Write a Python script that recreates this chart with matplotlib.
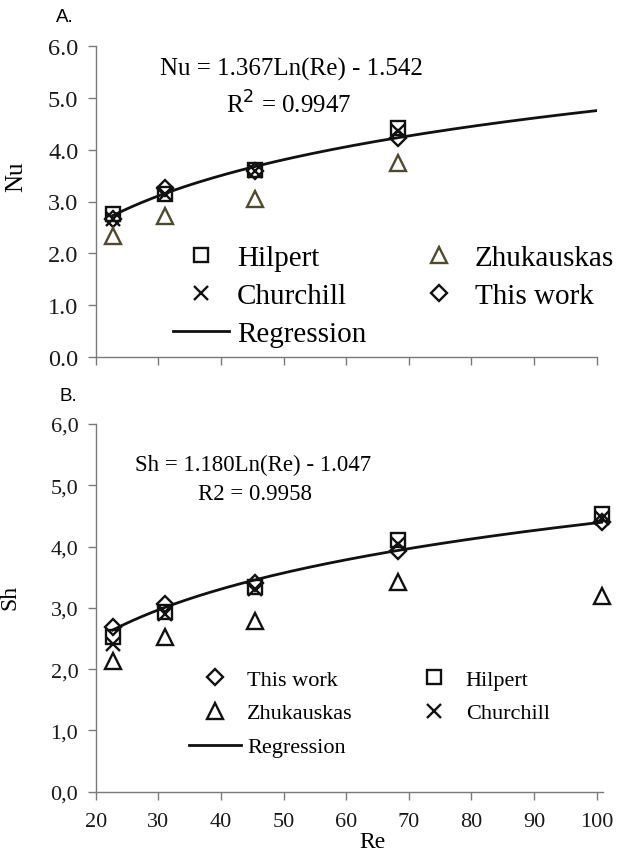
import numpy as np
import matplotlib
matplotlib.use("Agg")
import matplotlib.pyplot as plt
from matplotlib.ticker import FuncFormatter

plt.rcParams['font.family'] = ['Liberation Serif', 'DejaVu Serif']

# Re values of the experiments
re_a = [22.7, 31.1, 45.4, 68.3]
re_b = [22.7, 31.1, 45.4, 68.3, 100.9]

# A. Nusselt numbers
nu_hilpert = [2.76, 3.14, 3.61, 4.42]
nu_churchill = [2.66, 3.14, 3.59, 4.36]
nu_this = [2.66, 3.27, 3.59, 4.23]
nu_zhuk = [2.33, 2.72, 3.04, 3.75]
nu_coef = (1.367, -1.542)   # printed regression Nu = a Ln(Re) + b

# B. Sherwood numbers
sh_this = [2.68, 3.06, 3.40, 3.93, 4.40]
sh_hilpert = [2.52, 2.93, 3.34, 4.10, 4.53]
sh_churchill = [2.41, 2.90, 3.31, 4.04, 4.46]
sh_zhuk = [2.14, 2.52, 2.79, 3.42, 3.20]
sh_coef = (1.180, -1.047)

W, H = 625, 854
fig = plt.figure(figsize=(W / 100, H / 100), dpi=100)

def px(x, y):
    return x / W, 1 - y / H

gray = '#7a7a7a'
olive = '#4d4a2e'
ink = '#111111'

def style(ax, size):
    for s in ['top', 'right']:
        ax.spines[s].set_visible(False)
    for s in ['left', 'bottom']:
        ax.spines[s].set_color(gray)
        ax.spines[s].set_linewidth(1.0)
    ax.tick_params(direction='out', length=5.5, width=1, color=gray,
                   labelsize=size, labelcolor='#1a1a1a')
    ax.tick_params(axis='y', pad=7)
    ax.tick_params(axis='x', pad=9)
    ax.set_yticks(np.arange(0, 7, 1))
    ax.set_xticks(np.arange(20, 101, 10))

ms = dict(markersize=10, markerfacecolor='none', markeredgewidth=1.7,
          linestyle='none', clip_on=False)

# ---------------- panel A
x0, x1, y0, y1 = 95.7, 596.6, 47, 358
axA = fig.add_axes([x0 / W, 1 - y1 / H, (x1 - x0) / W, (y1 - y0) / H])
style(axA, 17.5)
axA.set_xlim(20, 100)
axA.set_ylim(0, 6)
axA.yaxis.set_major_formatter(FuncFormatter(lambda v, p: '%.1f' % v))
axA.tick_params(axis='x', labelbottom=False)

xr = np.linspace(re_a[0], 100, 200)
hA_s, = axA.plot(re_a, nu_hilpert, marker='s', color=ink, label='Hilpert', **ms)
hA_x, = axA.plot(re_a, nu_churchill, marker='x', color=ink, label='Churchill', **ms)
hA_d, = axA.plot(re_a, nu_this, marker='D', color=ink, label='This work',
                 **dict(ms, markersize=8.5))
hA_t, = axA.plot(re_a, nu_zhuk, marker='^', color=olive, label='Zhukauskas',
                 **dict(ms, markersize=11))
hA_r, = axA.plot(xr, nu_coef[0] * np.log(xr) + nu_coef[1], color=ink, lw=2.0,
                 label='Regression')
axA.set_ylabel('Nu', fontsize=18)
axA.yaxis.set_label_coords((27 - x0) / (x1 - x0), (y1 - 177) / (y1 - y0))
axA.legend([hA_s, hA_x, hA_r, hA_t, hA_d],
           ['Hilpert', 'Churchill', 'Regression', 'Zhukauskas', 'This work'],
           ncol=2, frameon=False, fontsize=21, loc='upper left',
           bbox_to_anchor=px(173, 246), bbox_transform=fig.transFigure,
           borderpad=0, borderaxespad=0,
           handlelength=1.92, handletextpad=0.27, columnspacing=1.54,
           labelspacing=0.39)
fig.text(*px(291, 69), 'Nu = 1.367Ln(Re) - 1.542', fontsize=18, ha='center', va='center')
fig.text(*px(289, 105), 'R$^{2}$ = 0.9947', fontsize=18, ha='center', va='center')
fig.text(*px(65, 18), 'A.', fontsize=13.5, family='Liberation Sans', ha='center', va='center')

# ---------------- panel B
x0, x1, y0, y1 = 95.7, 602.8, 425, 792.7
axB = fig.add_axes([x0 / W, 1 - y1 / H, (x1 - x0) / W, (y1 - y0) / H])
style(axB, 16)
axB.set_xlim(20, 101)
axB.set_ylim(0, 6)
axB.yaxis.set_major_formatter(FuncFormatter(lambda v, p: ('%.1f' % v).replace('.', ',')))

xr = np.linspace(re_b[0], 101, 200)
hB_d, = axB.plot(re_b, sh_this, marker='D', color=ink, label='This work',
                 **dict(ms, markersize=8.5))
hB_s, = axB.plot(re_b, sh_hilpert, marker='s', color=ink, label='Hilpert', **ms)
hB_x, = axB.plot(re_b, sh_churchill, marker='x', color=ink, label='Churchill', **ms)
hB_t, = axB.plot(re_b, sh_zhuk, marker='^', color=ink, label='Zhukauskas',
                 **dict(ms, markersize=11))
hB_r, = axB.plot(xr, sh_coef[0] * np.log(xr) + sh_coef[1], color=ink, lw=2.0,
                 label='Regression')
axB.set_ylabel('Sh', fontsize=17)
axB.yaxis.set_label_coords((20 - x0) / (x1 - x0), (y1 - 597) / (y1 - y0))
axB.set_xlabel('Re', fontsize=17, va='center')
axB.xaxis.set_label_coords((372 - x0) / (x1 - x0), (y1 - 843) / (y1 - y0))
axB.legend([hB_d, hB_t, hB_r, hB_s, hB_x],
           ['This work', 'Zhukauskas', 'Regression', 'Hilpert', 'Churchill'],
           ncol=2, frameon=False, fontsize=16, loc='upper left',
           bbox_to_anchor=px(189, 670), bbox_transform=fig.transFigure,
           borderpad=0, borderaxespad=0,
           handlelength=2.34, handletextpad=0.27, columnspacing=2.48,
           labelspacing=0.6)
fig.text(*px(253, 465), 'Sh = 1.180Ln(Re) - 1.047', fontsize=16.5, ha='center', va='center')
fig.text(*px(255, 495), 'R2 = 0.9958', fontsize=16.5, ha='center', va='center')
fig.text(*px(68, 397), 'B.', fontsize=13.5, family='Liberation Sans', ha='center', va='center')

fig.savefig('out.png', dpi=100)
